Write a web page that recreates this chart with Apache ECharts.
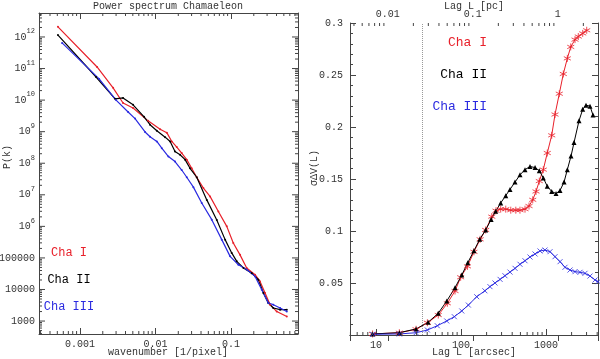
<!DOCTYPE html>
<html>
<head>
<meta charset="utf-8">
<script src="https://cdn.jsdelivr.net/npm/echarts@6/dist/echarts.min.js"></script>
<style>
html, body { margin: 0; padding: 0; background: #fff; }
#chart { width: 600px; height: 359px; }
</style>
</head>
<body>
<div id="chart"></div>
<script>
// left panel: P(k) against wavenumber [1/pixel]
const chaIPower = [
  [5.1e-4, 2.1e12], [1.68e-3, 1.12e11], [2.74e-3, 2.45e10], [3.71e-3, 8.1e9], [5.04e-3, 5.6e9],
  [7.96e-3, 2.2e9], [0.0115, 1.2e9], [0.0141, 9.3e8], [0.0164, 4.9e8], [0.0191, 3.25e8],
  [0.0222, 2.1e8], [0.0259, 1.3e8], [0.0301, 6.9e7], [0.0351, 3.6e7], [0.043, 1.63e7],
  [0.0527, 8.9e6], [0.0679, 2.96e6], [0.0877, 1.0e6], [0.107, 2.96e5], [0.1315, 1.25e5],
  [0.161, 4.8e4], [0.208, 2.95e4], [0.242, 1.8e4], [0.282, 7.8e3], [0.329, 3.3e3],
  [0.403, 2.0e3], [0.547, 1.4e3]
]
const chaIIPower = [
  [5.1e-4, 1.15e12], [1.63e-3, 5.4e10], [2.91e-3, 1.1e10], [3.71e-3, 1.17e10], [5.04e-3, 7.1e9],
  [7.05e-3, 2.95e9], [8.45e-3, 1.66e9], [0.0104, 1.07e9], [0.0134, 6.7e8], [0.0156, 4.9e8],
  [0.0181, 2.36e8], [0.0211, 1.85e8], [0.0246, 1.3e8], [0.0286, 6.9e7], [0.0351, 3.6e7],
  [0.0477, 6.9e6], [0.0647, 1.6e6], [0.0834, 3.8e5], [0.102, 1.44e5], [0.119, 7.8e4],
  [0.146, 4.8e4], [0.188, 3.3e4], [0.23, 2.04e4], [0.268, 7.8e3], [0.312, 3.7e3],
  [0.363, 2.6e3], [0.446, 2.3e3], [0.547, 2.3e3]
]
const chaIIIPower = [
  [5.78e-4, 6.5e11], [1.79e-3, 4.7e10], [3.0e-3, 1.0e10], [4.33e-3, 4.2e9], [5.35e-3, 2.6e9],
  [7.26e-3, 9.8e8], [8.45e-3, 6.9e8], [0.0104, 4.9e8], [0.0121, 3.0e8], [0.0148, 1.63e8],
  [0.0181, 1.13e8], [0.0222, 6.1e7], [0.0259, 3.6e7], [0.0317, 1.75e7], [0.0409, 5.5e6],
  [0.0555, 1.63e6], [0.0753, 3.8e5], [0.0971, 1.12e5], [0.125, 6.1e4], [0.161, 4.3e4],
  [0.208, 2.6e4], [0.255, 9.8e3], [0.312, 3.7e3], [0.363, 3.3e3], [0.446, 2.6e3], [0.547, 2.0e3]
]

// right panel: sigma dV(L) against lag L [arcsec]
const chaILag = [
  [9.1, 0.001], [18.8, 0.0022], [29.6, 0.0055], [40.2, 0.0118], [54, 0.0192], [69, 0.0305],
  [85, 0.0423], [99, 0.0555], [119, 0.066], [142, 0.08], [168, 0.092], [195, 0.101],
  [230, 0.1138], [258, 0.1195], [293, 0.121], [336, 0.121], [385, 0.12], [441, 0.12],
  [494, 0.12], [566, 0.121], [631, 0.124], [698, 0.13], [763, 0.138], [834, 0.148],
  [929, 0.159], [1035, 0.175], [1167, 0.192], [1276, 0.212], [1433, 0.232], [1598, 0.251],
  [1782, 0.266], [1954, 0.277], [2194, 0.284], [2399, 0.287], [2703, 0.29], [3012, 0.293]
]
const chaIILag = [
  [9.1, 0.001], [18.8, 0.0022], [29.6, 0.0058], [41, 0.0122], [54, 0.0209], [68, 0.0327],
  [85, 0.0455], [102, 0.0577], [120, 0.0695], [142, 0.081], [166, 0.092], [195, 0.101],
  [226, 0.111], [256, 0.119], [293, 0.127], [336, 0.134], [377, 0.14], [432, 0.147],
  [494, 0.154], [566, 0.159], [648, 0.162], [743, 0.161], [834, 0.158], [929, 0.151],
  [1035, 0.143], [1167, 0.138], [1312, 0.136], [1462, 0.139], [1630, 0.147], [1782, 0.159],
  [1969, 0.172], [2135, 0.185], [2445, 0.206], [2703, 0.217], [2956, 0.221], [3295, 0.22],
  [3570, 0.2115]
]
const chaIIILag = [
  [9.1, 0.0007], [18.8, 0.001], [29.6, 0.0022], [40.2, 0.0048], [52.6, 0.0089], [67.9, 0.0135],
  [83.4, 0.0176], [102, 0.0231], [122, 0.0288], [153, 0.0368], [191, 0.0425], [219, 0.0465],
  [251, 0.05], [288, 0.0535], [329, 0.057], [377, 0.0605], [432, 0.0641], [494, 0.068],
  [566, 0.0714], [648, 0.075], [743, 0.0779], [850, 0.0808], [973, 0.0817], [1114, 0.0801],
  [1276, 0.0753], [1462, 0.0705], [1674, 0.0651], [1917, 0.0625], [2194, 0.0609],
  [2512, 0.0603], [2877, 0.0593], [3295, 0.0567], [3773, 0.0529], [4090, 0.0513]
]

const seriesNames = ['Cha I', 'Cha II', 'Cha III']
const colors = ['#e8202a', '#000000', '#2a2ae0']

const kTicks = [0.001, 0.01, 0.1]
const kTickLabels = ['0.001', '0.01', '0.1']
const pTicks = [1e3, 1e4, 1e5, 1e6, 1e7, 1e8, 1e9, 1e10, 1e11, 1e12]
const pTickLabels = ['1000', '10000', '100000', '10{s|6}', '10{s|7}', '10{s|8}', '10{s|9}', '10{s|10}', '10{s|11}', '10{s|12}']
const lagTicks = [10, 100, 1000]
const lagTickLabels = ['10', '100', '1000']
const pcTicks = [0.01, 0.1, 1]
const pcTickLabels = ['0.01', '0.1', '1']
const cutLag = 35 // dotted line [arcsec]

const ARCSEC_PER_PC = 1375
const K_MIN = 2.86e-4, K_MAX = 0.77
const P_MIN = 389, P_MAX = 5.75e12
const LAG_MIN = 4.94, LAG_MAX = 4090

const FONT = '"Liberation Mono", monospace'
const INK = '#333'
const FRAME = '#444'

function tickLabel(ticks, labels) {
  return (v) => {
    const i = ticks.findIndex((t) => Math.abs(Math.log10(v / t)) < 0.01)
    return i < 0 ? '' : labels[i]
  }
}

function logMinors(min, max) {
  const out = []
  for (let d = Math.floor(Math.log10(min)); d <= Math.ceil(Math.log10(max)); d++) {
    for (let m = 2; m <= 9; m++) {
      const v = m * Math.pow(10, d)
      if (v > min && v < max) out.push(v)
    }
  }
  return out
}

function tickLine(x1, y1, x2, y2) {
  return { type: 'line', shape: { x1, y1, x2, y2 }, style: { stroke: FRAME, lineWidth: 1 } }
}

// minor ticks on a log x axis, drawn at the bottom and/or top of the frame
function xMinorSeries(xAxisIndex, yAxisIndex, values, yLo, yHi, bottom, top) {
  return {
    type: 'custom', xAxisIndex, yAxisIndex, silent: true, clip: false, z: 5,
    data: values.map((v) => [v, yLo]),
    renderItem: (params, api) => {
      const v = api.value(0)
      const b = api.coord([v, yLo])
      const t = api.coord([v, yHi])
      const children = []
      if (bottom) children.push(tickLine(b[0], b[1], b[0], b[1] - 3))
      if (top) children.push(tickLine(t[0], t[1], t[0], t[1] + 3))
      return { type: 'group', children }
    },
  }
}

// left panel y ticks (major with labels, minor) on the log P(k) axis
function yTickSeries(values, len, labels) {
  return {
    type: 'custom', xAxisIndex: 0, yAxisIndex: 0, silent: true, clip: false, z: 5,
    data: values.map((v, i) => [K_MIN, v, i]),
    renderItem: (params, api) => {
      const v = api.value(1)
      const l = api.coord([K_MIN, v])
      const r = api.coord([K_MAX, v])
      const children = [tickLine(l[0], l[1], l[0] + len, l[1]), tickLine(r[0], r[1], r[0] - len, r[1])]
      if (labels) {
        children.push({
          type: 'text',
          style: {
            text: labels[api.value(2)], x: l[0] - 4, y: l[1],
            align: 'right', verticalAlign: 'middle',
            fontFamily: FONT, fontSize: 10, lineHeight: 18, fill: INK,
            rich: { s: { fontFamily: FONT, fontSize: 7, lineHeight: 8, verticalAlign: 'top', fill: INK } },
          },
        })
      }
      return { type: 'group', children }
    },
  }
}

const axisLine = { show: true, lineStyle: { color: FRAME, width: 1 } }
const majorTick = { show: true, inside: true, length: 6, lineStyle: { color: FRAME } }
const labelStyle = { fontFamily: FONT, fontSize: 10, color: INK }

const STAR = 'path://M5,0L5,10M0.67,2.5L9.33,7.5M0.67,7.5L9.33,2.5'
const CROSS = 'path://M0,0L10,10M10,0L0,10'

function plainText(text, x, y, size, fill, align, rotation) {
  return {
    type: 'text', x, y, rotation: rotation || 0,
    style: { text, font: size + 'px ' + FONT, fill, align: align || 'center', verticalAlign: 'middle' },
  }
}

const chart = echarts.init(document.getElementById('chart'), null, { renderer: 'canvas' })

const option = {
  animation: false,
  backgroundColor: '#fff',
  grid: [
    { left: 39, right: 302, top: 13, bottom: 25, outerBoundsMode: 'none', containLabel: false },
    { left: 350, right: 2, top: 23, bottom: 24, outerBoundsMode: 'none', containLabel: false },
  ],
  xAxis: [
    {
      gridIndex: 0, type: 'log', min: K_MIN, max: K_MAX, position: 'bottom',
      axisLine, axisTick: majorTick, splitLine: { show: false },
      axisLabel: { ...labelStyle, margin: 5, formatter: tickLabel(kTicks, kTickLabels) },
    },
    {
      gridIndex: 0, type: 'log', min: K_MIN, max: K_MAX, position: 'top',
      axisLine, axisTick: majorTick, splitLine: { show: false }, axisLabel: { show: false },
    },
    {
      gridIndex: 1, type: 'log', min: LAG_MIN, max: LAG_MAX, position: 'bottom',
      axisLine, axisTick: majorTick, splitLine: { show: false },
      axisLabel: { ...labelStyle, margin: 5, formatter: tickLabel(lagTicks, lagTickLabels) },
    },
    {
      gridIndex: 1, type: 'log', min: LAG_MIN / ARCSEC_PER_PC, max: LAG_MAX / ARCSEC_PER_PC, position: 'top',
      axisLine, axisTick: majorTick, splitLine: { show: false },
      axisLabel: { ...labelStyle, margin: 4, formatter: tickLabel(pcTicks, pcTickLabels) },
    },
  ],
  yAxis: [
    {
      gridIndex: 0, type: 'log', min: P_MIN, max: P_MAX, position: 'left',
      axisLine, axisTick: { show: false }, axisLabel: { show: false }, splitLine: { show: false },
    },
    {
      gridIndex: 0, type: 'log', min: P_MIN, max: P_MAX, position: 'right',
      axisLine, axisTick: { show: false }, axisLabel: { show: false }, splitLine: { show: false },
    },
    {
      gridIndex: 1, type: 'value', min: 0, max: 0.3, interval: 0.05, position: 'left',
      axisLine, axisTick: majorTick, splitLine: { show: false },
      minorTick: { show: true, splitNumber: 5, length: 3, lineStyle: { color: FRAME } },
      minorSplitLine: { show: false },
      axisLabel: { ...labelStyle, margin: 7, formatter: (v) => (v === 0 ? '' : String(+v.toFixed(2))) },
    },
    {
      gridIndex: 1, type: 'value', min: 0, max: 0.3, interval: 0.05, position: 'right',
      axisLine, axisTick: majorTick, splitLine: { show: false },
      minorTick: { show: true, splitNumber: 5, length: 3, lineStyle: { color: FRAME } },
      minorSplitLine: { show: false }, axisLabel: { show: false },
    },
  ],
  series: [
    ...[chaIPower, chaIIPower, chaIIIPower].map((d, i) => ({
      type: 'line', name: seriesNames[i], xAxisIndex: 0, yAxisIndex: 0, data: d,
      symbol: 'circle', symbolSize: 2, showSymbol: true,
      lineStyle: { color: colors[i], width: 1.2 }, itemStyle: { color: colors[i] },
    })),
    {
      type: 'line', name: 'Cha I', xAxisIndex: 2, yAxisIndex: 2, data: chaILag,
      symbol: STAR, symbolSize: 7, lineStyle: { color: colors[0], width: 1 },
      itemStyle: { color: 'rgba(0,0,0,0)', borderColor: colors[0], borderWidth: 0.8 },
    },
    {
      type: 'line', name: 'Cha II', xAxisIndex: 2, yAxisIndex: 2, data: chaIILag,
      symbol: 'triangle', symbolSize: 5, lineStyle: { color: colors[1], width: 1 },
      itemStyle: { color: colors[1] },
    },
    {
      type: 'line', name: 'Cha III', xAxisIndex: 2, yAxisIndex: 2, data: chaIIILag,
      symbol: CROSS, symbolSize: 5, lineStyle: { color: colors[2], width: 1 },
      itemStyle: { color: 'rgba(0,0,0,0)', borderColor: colors[2], borderWidth: 0.8 },
      markLine: {
        silent: true, symbol: 'none', label: { show: false },
        lineStyle: { type: 'dotted', color: '#999', width: 1 },
        data: [{ xAxis: cutLag }],
      },
    },
    xMinorSeries(0, 0, logMinors(K_MIN, K_MAX), P_MIN, P_MAX, true, true),
    yTickSeries(logMinors(P_MIN, P_MAX), 3, null),
    yTickSeries(pTicks, 6, pTickLabels),
    xMinorSeries(2, 2, logMinors(LAG_MIN, LAG_MAX), 0, 0.3, true, false),
    xMinorSeries(3, 2, logMinors(LAG_MIN / ARCSEC_PER_PC, LAG_MAX / ARCSEC_PER_PC), 0, 0.3, false, true),
  ],
  graphic: [
    plainText('Power spectrum Chamaeleon', 168, 6, 10, INK),
    plainText('wavenumber [1/pixel]', 168, 352, 10, INK),
    plainText('Lag L [arcsec]', 474, 352, 10, INK),
    plainText('Lag L [pc]', 474, 6, 10, INK),
    plainText('P(k)', 7, 157, 10, INK, 'center', Math.PI / 2),
    plainText('σΔV(L)', 314, 168, 10, INK, 'center', Math.PI / 2),
    ...seriesNames.map((n, i) => plainText(n, 69, 253 + 27 * i, 12, colors[i])),
    ...seriesNames.map((n, i) => plainText(n, 487, 43 + 32 * i, 13, colors[i], 'right')),
  ],
}

chart.setOption(option)
window.addEventListener('resize', () => chart.resize())
</script>
</body>
</html>
